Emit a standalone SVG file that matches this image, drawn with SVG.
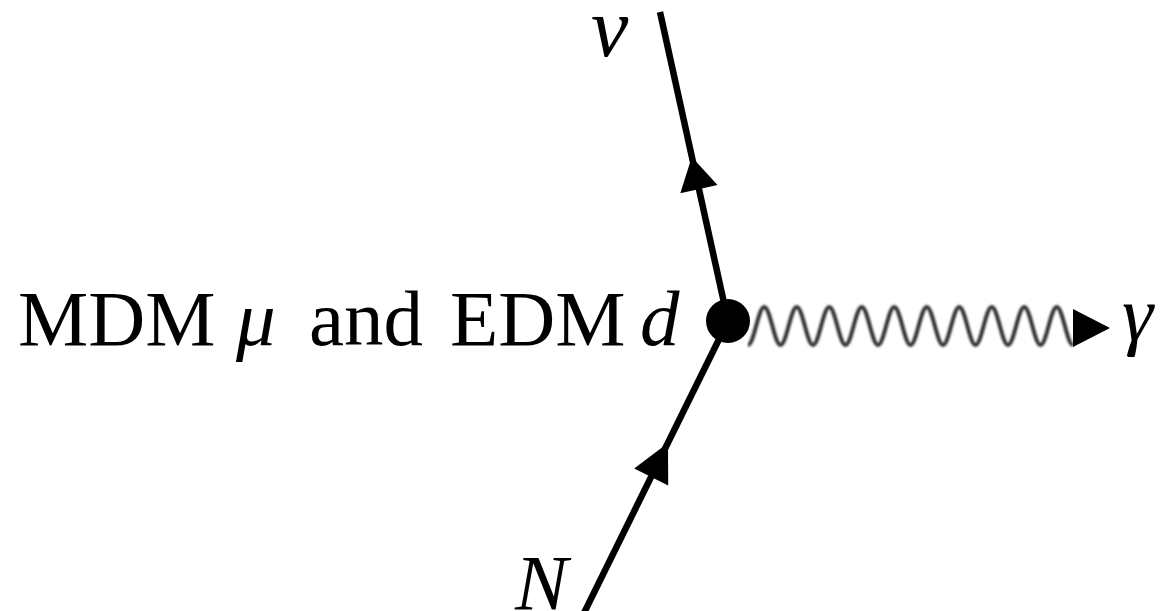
<svg xmlns="http://www.w3.org/2000/svg" width="1165" height="611" viewBox="0 0 1165 611">
  <style>
    .lbl { font-family: "Liberation Serif", "Times New Roman", serif; font-size: 79px; fill: #000; }
    .it { font-style: italic; }
    .fermion { stroke: #000; stroke-width: 6.5; fill: none; }
    .photon { stroke: #333; stroke-width: 4; fill: none; }
    .head { fill: #000; }
  </style>
  <defs>
    <filter id="soft" x="-5%" y="-50%" width="110%" height="200%">
      <feGaussianBlur stdDeviation="0.9"/>
    </filter>
  </defs>
  <g id="connectors">
    <line class="fermion" x1="728" y1="321" x2="660" y2="12"/>
    <polygon class="head" points="691.8,157 717.5,185.1 680.3,193.3"/>
    <line class="fermion" x1="728" y1="321" x2="583" y2="615"/>
    <polygon class="head" points="668,443 668.2,485.4 634.2,468.6"/>
    <path class="photon" filter="url(#soft)" d="M748,345 c5.92,0 10.33,-38 16.25,-38 s10.33,38 16.25,38 s10.33,-38 16.25,-38 s10.33,38 16.25,38 s10.33,-38 16.25,-38 s10.33,38 16.25,38 s10.33,-38 16.25,-38 s10.33,38 16.25,38 s10.33,-38 16.25,-38 s10.33,38 16.25,38 s10.33,-38 16.25,-38 s10.33,38 16.25,38 s10.33,-38 16.25,-38 s10.33,38 16.25,38 s10.33,-38 16.25,-38 s10.33,38 16.25,38 s10.33,-38 16.25,-38 s10.33,38 16.25,38 s10.33,-38 16.25,-38 s10.33,38 16.25,38"/>
    <polygon class="head" points="1073,309 1073,347 1110,328"/>
  </g>
  <g id="vertex">
    <circle cx="728" cy="321" r="22" fill="#000"/>
    <text class="lbl" y="345"><tspan x="18">MDM</tspan><tspan class="it" x="236">μ</tspan><tspan x="309">and</tspan><tspan x="450">EDM</tspan><tspan class="it" x="640">d</tspan></text>
  </g>
  <g id="nu">
    <text class="lbl it" x="591" y="56" style="font-size:84px">ν</text>
  </g>
  <g id="N">
    <text class="lbl it" x="515" y="609">N</text>
  </g>
  <g id="gamma">
    <text class="lbl it" x="1122" y="340">γ</text>
  </g>
</svg>
